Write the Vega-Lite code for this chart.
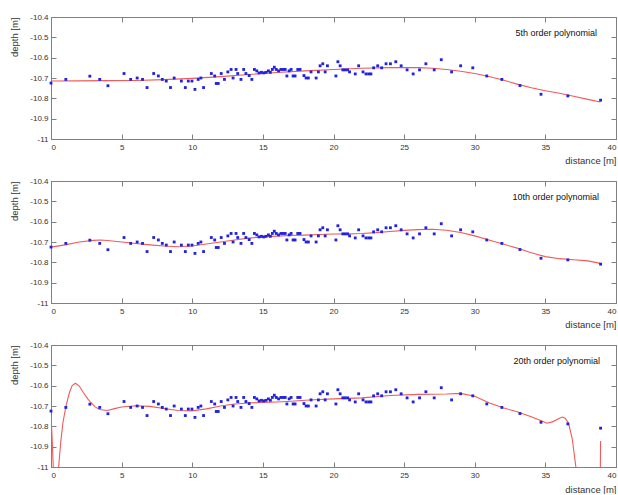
{
  "$schema": "https://vega.github.io/schema/vega-lite/v6.json",
  "padding": {"left": 8, "top": 12, "right": 0, "bottom": 0},
  "spacing": 42,
  "bounds": "flush",
  "config": {
    "font": "Liberation Sans",
    "view": {"stroke": "#808080", "strokeWidth": 1},
    "axis": {"grid": false, "domainColor": "#808080", "tickColor": "#808080", "labelColor": "#333333", "titleColor": "#333333", "labelFont": "Liberation Sans", "titleFont": "Liberation Sans", "labelFontSize": 8, "titleFontSize": 9.5, "titleFontWeight": "normal", "tickSize": -5}
  },
  "datasets": {
    "pts": [
      {"x": 0, "y": -10.725}, {"x": 1.05, "y": -10.707}, {"x": 2.75, "y": -10.691}, {"x": 3.45, "y": -10.707}, {"x": 4.03, "y": -10.738},
      {"x": 5.17, "y": -10.678}, {"x": 5.64, "y": -10.707}, {"x": 6.1, "y": -10.7}, {"x": 6.48, "y": -10.707}, {"x": 6.8, "y": -10.747},
      {"x": 7.27, "y": -10.678}, {"x": 7.6, "y": -10.69}, {"x": 7.88, "y": -10.707}, {"x": 8.16, "y": -10.715}, {"x": 8.46, "y": -10.747},
      {"x": 8.72, "y": -10.7}, {"x": 9.23, "y": -10.715}, {"x": 9.51, "y": -10.747}, {"x": 9.72, "y": -10.715}, {"x": 9.98, "y": -10.715},
      {"x": 10.19, "y": -10.756}, {"x": 10.42, "y": -10.707}, {"x": 10.61, "y": -10.7}, {"x": 10.8, "y": -10.747}, {"x": 11.35, "y": -10.678},
      {"x": 11.59, "y": -10.69}, {"x": 11.7, "y": -10.727}, {"x": 11.84, "y": -10.727}, {"x": 12.05, "y": -10.678}, {"x": 12.28, "y": -10.707},
      {"x": 12.52, "y": -10.67}, {"x": 12.75, "y": -10.658}, {"x": 12.89, "y": -10.7}, {"x": 13.1, "y": -10.658}, {"x": 13.22, "y": -10.678},
      {"x": 13.45, "y": -10.707}, {"x": 13.64, "y": -10.658}, {"x": 13.8, "y": -10.678}, {"x": 14.03, "y": -10.688}, {"x": 14.22, "y": -10.707},
      {"x": 14.4, "y": -10.658}, {"x": 14.57, "y": -10.665}, {"x": 14.73, "y": -10.675}, {"x": 14.9, "y": -10.672}, {"x": 15.06, "y": -10.675},
      {"x": 15.22, "y": -10.672}, {"x": 15.39, "y": -10.665}, {"x": 15.53, "y": -10.672}, {"x": 15.67, "y": -10.658}, {"x": 15.81, "y": -10.647},
      {"x": 15.95, "y": -10.658}, {"x": 16.11, "y": -10.665}, {"x": 16.28, "y": -10.658}, {"x": 16.44, "y": -10.658}, {"x": 16.58, "y": -10.658},
      {"x": 16.7, "y": -10.69}, {"x": 16.86, "y": -10.665}, {"x": 17.0, "y": -10.658}, {"x": 17.14, "y": -10.69}, {"x": 17.28, "y": -10.69},
      {"x": 17.47, "y": -10.658}, {"x": 17.63, "y": -10.658}, {"x": 17.91, "y": -10.688}, {"x": 18.06, "y": -10.7}, {"x": 18.22, "y": -10.7},
      {"x": 18.41, "y": -10.67}, {"x": 18.77, "y": -10.7}, {"x": 18.93, "y": -10.67}, {"x": 19.05, "y": -10.64}, {"x": 19.24, "y": -10.63},
      {"x": 19.41, "y": -10.67}, {"x": 19.57, "y": -10.64}, {"x": 20.17, "y": -10.69}, {"x": 20.31, "y": -10.62}, {"x": 20.47, "y": -10.64},
      {"x": 20.66, "y": -10.66}, {"x": 20.83, "y": -10.66}, {"x": 21.0, "y": -10.66}, {"x": 21.14, "y": -10.67}, {"x": 21.54, "y": -10.68},
      {"x": 21.78, "y": -10.64}, {"x": 22.09, "y": -10.67}, {"x": 22.3, "y": -10.68}, {"x": 22.49, "y": -10.68}, {"x": 22.65, "y": -10.68},
      {"x": 22.84, "y": -10.65}, {"x": 23.13, "y": -10.64}, {"x": 23.41, "y": -10.65}, {"x": 23.72, "y": -10.63}, {"x": 24.03, "y": -10.63},
      {"x": 24.41, "y": -10.62}, {"x": 24.79, "y": -10.64}, {"x": 25.21, "y": -10.66}, {"x": 25.64, "y": -10.68}, {"x": 26.09, "y": -10.66},
      {"x": 26.54, "y": -10.63}, {"x": 27.13, "y": -10.66}, {"x": 27.63, "y": -10.61}, {"x": 28.36, "y": -10.67}, {"x": 29.0, "y": -10.64},
      {"x": 29.86, "y": -10.65}, {"x": 30.85, "y": -10.69}, {"x": 31.92, "y": -10.707}, {"x": 33.2, "y": -10.737}, {"x": 34.69, "y": -10.78},
      {"x": 36.59, "y": -10.788}, {"x": 38.91, "y": -10.809}
    ],
    "fit5": [
      {"x": 0, "y": -10.715}, {"x": 2, "y": -10.714}, {"x": 4, "y": -10.713}, {"x": 6, "y": -10.712}, {"x": 8, "y": -10.708},
      {"x": 10, "y": -10.702}, {"x": 12, "y": -10.693}, {"x": 14, "y": -10.683}, {"x": 16, "y": -10.673}, {"x": 18, "y": -10.665},
      {"x": 20, "y": -10.658}, {"x": 22, "y": -10.652}, {"x": 24, "y": -10.649}, {"x": 25, "y": -10.648}, {"x": 26, "y": -10.649},
      {"x": 27, "y": -10.652}, {"x": 28, "y": -10.658}, {"x": 29, "y": -10.667}, {"x": 30, "y": -10.678}, {"x": 31, "y": -10.693},
      {"x": 32, "y": -10.71}, {"x": 33, "y": -10.73}, {"x": 34, "y": -10.748}, {"x": 35, "y": -10.763}, {"x": 36, "y": -10.775},
      {"x": 37, "y": -10.79}, {"x": 38, "y": -10.805}, {"x": 38.9, "y": -10.818}
    ],
    "fit10": [
      {"x": 0, "y": -10.725}, {"x": 1, "y": -10.714}, {"x": 2, "y": -10.7}, {"x": 3, "y": -10.692}, {"x": 3.5, "y": -10.69},
      {"x": 4, "y": -10.693}, {"x": 5, "y": -10.7}, {"x": 6, "y": -10.707}, {"x": 7, "y": -10.714}, {"x": 8, "y": -10.72},
      {"x": 9, "y": -10.723}, {"x": 10, "y": -10.72}, {"x": 11, "y": -10.71}, {"x": 12, "y": -10.7}, {"x": 13, "y": -10.69},
      {"x": 14, "y": -10.681}, {"x": 15, "y": -10.675}, {"x": 16, "y": -10.671}, {"x": 17, "y": -10.668}, {"x": 18, "y": -10.666},
      {"x": 19, "y": -10.663}, {"x": 20, "y": -10.661}, {"x": 21, "y": -10.66}, {"x": 22, "y": -10.658}, {"x": 23, "y": -10.654},
      {"x": 24, "y": -10.648}, {"x": 25, "y": -10.643}, {"x": 26, "y": -10.639}, {"x": 27, "y": -10.637}, {"x": 28, "y": -10.642},
      {"x": 29, "y": -10.653}, {"x": 30, "y": -10.67}, {"x": 31, "y": -10.69}, {"x": 32, "y": -10.71}, {"x": 33, "y": -10.73},
      {"x": 34, "y": -10.753}, {"x": 35, "y": -10.772}, {"x": 36, "y": -10.782}, {"x": 37, "y": -10.787}, {"x": 38, "y": -10.793},
      {"x": 38.9, "y": -10.805}
    ],
    "fit20": [
      {"x": 0, "y": -10.74}, {"x": 0.08, "y": -10.86}, {"x": 0.16, "y": -11.0}, {"x": 0.25, "y": -11.08}, {"x": 0.35, "y": -11.1},
      {"x": 0.45, "y": -11.07}, {"x": 0.54, "y": -11.0}, {"x": 0.7, "y": -10.87}, {"x": 0.85, "y": -10.78}, {"x": 1.06, "y": -10.7},
      {"x": 1.3, "y": -10.635}, {"x": 1.5, "y": -10.6}, {"x": 1.73, "y": -10.588}, {"x": 2.0, "y": -10.602}, {"x": 2.3, "y": -10.635},
      {"x": 2.6, "y": -10.665}, {"x": 2.84, "y": -10.684}, {"x": 3.1, "y": -10.703}, {"x": 3.43, "y": -10.717}, {"x": 4.0, "y": -10.722},
      {"x": 4.5, "y": -10.713}, {"x": 5, "y": -10.705}, {"x": 6, "y": -10.699}, {"x": 7, "y": -10.702}, {"x": 8, "y": -10.712},
      {"x": 9, "y": -10.722}, {"x": 10, "y": -10.724}, {"x": 11, "y": -10.714}, {"x": 12, "y": -10.7}, {"x": 13, "y": -10.69},
      {"x": 14, "y": -10.685}, {"x": 15, "y": -10.682}, {"x": 16, "y": -10.68}, {"x": 17, "y": -10.677}, {"x": 18, "y": -10.672},
      {"x": 19, "y": -10.668}, {"x": 20, "y": -10.665}, {"x": 22, "y": -10.66}, {"x": 24, "y": -10.648}, {"x": 26, "y": -10.643},
      {"x": 28, "y": -10.641}, {"x": 29, "y": -10.638}, {"x": 30, "y": -10.652}, {"x": 31, "y": -10.684}, {"x": 32, "y": -10.709},
      {"x": 33, "y": -10.728}, {"x": 34, "y": -10.753}, {"x": 34.8, "y": -10.775}, {"x": 35.1, "y": -10.785}, {"x": 35.5, "y": -10.778},
      {"x": 36, "y": -10.76}, {"x": 36.2, "y": -10.754}, {"x": 36.4, "y": -10.76}, {"x": 36.64, "y": -10.785}, {"x": 36.9, "y": -10.86},
      {"x": 37.16, "y": -11.0}, {"x": 37.4, "y": -11.2}, {"x": 38.0, "y": -11.6}, {"x": 38.6, "y": -11.6}, {"x": 38.85, "y": -11.3},
      {"x": 38.91, "y": -10.872}
    ]
  },
  "vconcat": [
    {
      "width": 565, "height": 122,
      "title": {"text": "5th order polynomial", "anchor": "end", "frame": "group", "offset": -29, "baseline": "middle", "dx": -19, "fontSize": 9, "fontWeight": "normal", "color": "#111111", "font": "Liberation Sans"},
      "layer": [
        {
          "data": {"name": "fit5"},
          "mark": {"type": "line", "color": "#f05a5a", "strokeWidth": 1.1, "clip": true},
          "encoding": {
            "x": {"field": "x", "type": "quantitative", "scale": {"domain": [0, 40], "nice": false, "zero": false}, "axis": {"orient": "top", "values": [0,5,10,15,20,25,30,35,40], "labels": false, "title": null, "domain": false}},
            "y": {"field": "y", "type": "quantitative", "scale": {"domain": [-11, -10.4], "nice": false, "zero": false}, "axis": {"orient": "right", "values": [-11,-10.9,-10.8,-10.7,-10.6,-10.5,-10.4], "labels": false, "title": null, "domain": false}}
          }
        },
        {
          "data": {"name": "pts"},
          "mark": {"type": "point", "shape": "square", "filled": true, "color": "#2222dd", "size": 8, "opacity": 1},
          "encoding": {
            "x": {"field": "x", "type": "quantitative", "scale": {"domain": [0, 40], "nice": false, "zero": false}, "axis": {"orient": "bottom", "values": [0,5,10,15,20,25,30,35,40], "labelPadding": 9, "title": "distance [m]", "titleAnchor": "end", "titleAlign": "right", "titleX": 565, "titleY": 24, "titleBaseline": "alphabetic"}},
            "y": {"field": "y", "type": "quantitative", "scale": {"domain": [-11, -10.4], "nice": false, "zero": false}, "axis": {"orient": "left", "values": [-11,-10.9,-10.8,-10.7,-10.6,-10.5,-10.4], "labelPadding": 8, "labelExpr": "replace(format(datum.value, '.4~g'), '\u2212', '-')", "title": "depth [m]", "titleAngle": -90, "titleX": -37, "titleY": 0, "titleAlign": "right", "titleBaseline": "middle"}}
          }
        }
      ]
    },
    {
      "width": 565, "height": 122,
      "title": {"text": "10th order polynomial", "anchor": "end", "frame": "group", "offset": -29, "baseline": "middle", "dx": -17, "fontSize": 9, "fontWeight": "normal", "color": "#111111", "font": "Liberation Sans"},
      "layer": [
        {
          "data": {"name": "fit10"},
          "mark": {"type": "line", "color": "#f05a5a", "strokeWidth": 1.1, "clip": true},
          "encoding": {
            "x": {"field": "x", "type": "quantitative", "scale": {"domain": [0, 40], "nice": false, "zero": false}, "axis": {"orient": "top", "values": [0,5,10,15,20,25,30,35,40], "labels": false, "title": null, "domain": false}},
            "y": {"field": "y", "type": "quantitative", "scale": {"domain": [-11, -10.4], "nice": false, "zero": false}, "axis": {"orient": "right", "values": [-11,-10.9,-10.8,-10.7,-10.6,-10.5,-10.4], "labels": false, "title": null, "domain": false}}
          }
        },
        {
          "data": {"name": "pts"},
          "mark": {"type": "point", "shape": "square", "filled": true, "color": "#2222dd", "size": 8, "opacity": 1},
          "encoding": {
            "x": {"field": "x", "type": "quantitative", "scale": {"domain": [0, 40], "nice": false, "zero": false}, "axis": {"orient": "bottom", "values": [0,5,10,15,20,25,30,35,40], "labelPadding": 9, "title": "distance [m]", "titleAnchor": "end", "titleAlign": "right", "titleX": 565, "titleY": 24, "titleBaseline": "alphabetic"}},
            "y": {"field": "y", "type": "quantitative", "scale": {"domain": [-11, -10.4], "nice": false, "zero": false}, "axis": {"orient": "left", "values": [-11,-10.9,-10.8,-10.7,-10.6,-10.5,-10.4], "labelPadding": 8, "labelExpr": "replace(format(datum.value, '.4~g'), '\u2212', '-')", "title": "depth [m]", "titleAngle": -90, "titleX": -37, "titleY": 0, "titleAlign": "right", "titleBaseline": "middle"}}
          }
        }
      ]
    },
    {
      "width": 565, "height": 122,
      "title": {"text": "20th order polynomial", "anchor": "end", "frame": "group", "offset": -29, "baseline": "middle", "dx": -16, "fontSize": 9, "fontWeight": "normal", "color": "#111111", "font": "Liberation Sans"},
      "layer": [
        {
          "data": {"name": "fit20"},
          "mark": {"type": "line", "color": "#f05a5a", "strokeWidth": 1.1, "clip": true},
          "encoding": {
            "x": {"field": "x", "type": "quantitative", "scale": {"domain": [0, 40], "nice": false, "zero": false}, "axis": {"orient": "top", "values": [0,5,10,15,20,25,30,35,40], "labels": false, "title": null, "domain": false}},
            "y": {"field": "y", "type": "quantitative", "scale": {"domain": [-11, -10.4], "nice": false, "zero": false}, "axis": {"orient": "right", "values": [-11,-10.9,-10.8,-10.7,-10.6,-10.5,-10.4], "labels": false, "title": null, "domain": false}}
          }
        },
        {
          "data": {"name": "pts"},
          "mark": {"type": "point", "shape": "square", "filled": true, "color": "#2222dd", "size": 8, "opacity": 1},
          "encoding": {
            "x": {"field": "x", "type": "quantitative", "scale": {"domain": [0, 40], "nice": false, "zero": false}, "axis": {"orient": "bottom", "values": [0,5,10,15,20,25,30,35,40], "labelPadding": 9, "title": "distance [m]", "titleAnchor": "end", "titleAlign": "right", "titleX": 565, "titleY": 25, "titleBaseline": "alphabetic"}},
            "y": {"field": "y", "type": "quantitative", "scale": {"domain": [-11, -10.4], "nice": false, "zero": false}, "axis": {"orient": "left", "values": [-11,-10.9,-10.8,-10.7,-10.6,-10.5,-10.4], "labelPadding": 8, "labelExpr": "replace(format(datum.value, '.4~g'), '\u2212', '-')", "title": "depth [m]", "titleAngle": -90, "titleX": -37, "titleY": 0, "titleAlign": "right", "titleBaseline": "middle"}}
          }
        }
      ]
    }
  ]
}
